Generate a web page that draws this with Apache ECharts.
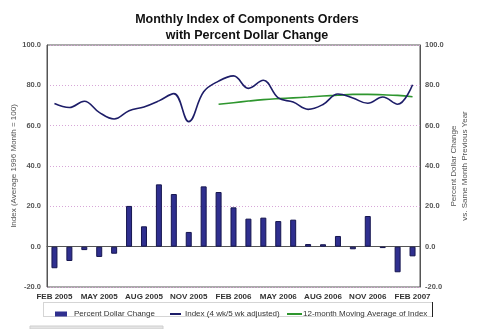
<!DOCTYPE html>
<html>
<head>
<meta charset="utf-8">
<script src="https://cdn.jsdelivr.net/npm/echarts@6/dist/echarts.min.js"></script>
<style>
  html, body { margin: 0; padding: 0; background: #fff; }
  #chart { width: 482px; height: 329px; }
</style>
</head>
<body>
<div id="chart"></div>
<script>
// Months, February 2005 through February 2007
var months = ['FEB 2005','MAR 2005','APR 2005','MAY 2005','JUN 2005','JUL 2005','AUG 2005','SEP 2005','OCT 2005','NOV 2005','DEC 2005',
              'JAN 2006','FEB 2006','MAR 2006','APR 2006','MAY 2006','JUN 2006','JUL 2006','AUG 2006','SEP 2006','OCT 2006','NOV 2006','DEC 2006',
              'JAN 2007','FEB 2007'];

// Percent dollar change vs. same month previous year
var pctChange = [-10.7, -7.1, -1.7, -5.1, -3.5, 20.2, 10.1, 30.9, 26.1, 7.3, 29.9,
                 27.1, 19.5, 13.9, 14.4, 12.7, 13.4, 1.3, 1.2, 5.3, -1.3, 15.2, -0.7,
                 -12.7, -4.8];

// Index (4 wk/5 wk adjusted), average 1996 month = 100
var indexValues = [71.0, 69.0, 72.1, 66.6, 63.3, 67.4, 69.3, 72.3, 75.9, 62.0, 76.8,
                   82.1, 84.7, 78.5, 82.5, 73.8, 71.7, 68.1, 70.5, 75.7, 73.7, 71.1, 74.2,
                   70.6, 80.3];

// 12-month moving average of the index (starts January 2006)
var movingAvg = [null, null, null, null, null, null, null, null, null, null, null,
                 70.6, 71.4, 72.2, 72.9, 73.4, 73.8, 74.2, 74.7, 75.1, 75.5, 75.5, 75.3,
                 75.0, 74.3];

var yMin = -20, yMax = 100, yStep = 20;

var FONT = 'Liberation Sans, Arial, sans-serif';
var NAME_BAR = 'Percent Dollar Change';
var NAME_IDX = 'Index (4 wk/5 wk adjusted)';
var NAME_MA = '12-month Moving Average of Index';

var BAR_COLOR = '#2f2f8f';
var IDX_COLOR = '#1d1d68';
var MA_COLOR = '#2e962e';

var chart = echarts.init(document.getElementById('chart'), null, { renderer: 'canvas' });

function fmt(v) { return v.toFixed(1); }

var valueAxisBase = {
  type: 'value',
  min: yMin, max: yMax, interval: yStep,
  axisTick: { show: false },
  axisLine: { show: true, lineStyle: { color: '#555', width: 1 } },
  axisLabel: { formatter: fmt, fontFamily: FONT, fontSize: 7.5, fontWeight: 'bold', color: '#555' },
  nameLocation: 'middle',
  nameRotate: 90,
  nameMoveOverlap: false,
  nameTextStyle: { fontFamily: FONT, fontSize: 8, color: '#555', lineHeight: 11 }
};

var legendText = { fontFamily: FONT, fontSize: 8, color: '#333' };

chart.setOption({
  animation: false,
  backgroundColor: '#fff',
  textStyle: { fontFamily: FONT },
  title: {
    text: 'Monthly Index of Components Orders\nwith Percent Dollar Change',
    left: 242,
    top: 7,
    textAlign: 'center',
    textStyle: { fontFamily: FONT, fontSize: 12.5, fontWeight: 'bold', color: '#111', lineHeight: 16 }
  },
  grid: {
    left: 47, right: 62, top: 45, bottom: 42,
    outerBoundsMode: 'none',
    containLabel: false,
    show: true, borderColor: '#555', borderWidth: 1
  },
  legend: [
    { data: [{ name: NAME_BAR, icon: 'rect', itemStyle: { color: BAR_COLOR, borderWidth: 0 } }],
      left: 50, top: 305, itemWidth: 12, itemHeight: 5, itemGap: 0,
      textStyle: Object.assign({}, legendText, { padding: [0, 0, 0, 2] }) },
    { data: [{ name: NAME_IDX, icon: 'rect', itemStyle: { color: IDX_COLOR } }],
      left: 165, top: 305, itemWidth: 11, itemHeight: 2, itemGap: 0,
      textStyle: Object.assign({}, legendText, { padding: [0, 0, 0, -1] }) },
    { data: [{ name: NAME_MA, icon: 'rect', itemStyle: { color: MA_COLOR } }],
      left: 282, top: 305, itemWidth: 15, itemHeight: 2, itemGap: 0,
      textStyle: Object.assign({}, legendText, { padding: [0, 0, 0, -4] }) }
  ],
  graphic: [
    { type: 'rect', shape: { x: 43.5, y: 302.5, width: 389, height: 14 },
      style: { fill: 'none', stroke: '#aaa', lineWidth: 1, lineDash: [1, 1] }, z: -1 },
    { type: 'line', shape: { x1: 432.5, y1: 302, x2: 432.5, y2: 317 },
      style: { stroke: '#222', lineWidth: 1 } },
    { type: 'rect', shape: { x: 30, y: 326, width: 133, height: 3 },
      style: { fill: '#e4e4e4', stroke: '#cfcfcf', lineWidth: 1 } }
  ],
  xAxis: {
    type: 'category',
    data: months,
    boundaryGap: true,
    axisTick: { show: false },
    axisLine: { lineStyle: { color: '#555', width: 1 } },
    axisLabel: { interval: 2, margin: 6, fontFamily: FONT, fontSize: 8, fontWeight: 'bold', color: '#333' },
    splitLine: { show: false }
  },
  yAxis: [
    Object.assign({}, valueAxisBase, {
      position: 'left',
      name: 'Index (Average 1996 Month = 100)',
      nameGap: 28,
      axisLabel: Object.assign({}, valueAxisBase.axisLabel, { margin: 6 }),
      splitLine: { show: true, lineStyle: { color: '#d7a6d7', type: [1, 2], width: 1 } }
    }),
    Object.assign({}, valueAxisBase, {
      position: 'right',
      name: 'Percent Dollar Change\nvs. Same Month Previous Year',
      nameGap: 28,
      axisLabel: Object.assign({}, valueAxisBase.axisLabel, { margin: 5 }),
      splitLine: { show: false }
    })
  ],
  series: [
    {
      name: NAME_BAR,
      type: 'bar',
      yAxisIndex: 1,
      data: pctChange,
      barWidth: 6,
      itemStyle: { color: BAR_COLOR, borderColor: '#16164f', borderWidth: 1 },
      z: 2
    },
    {
      name: NAME_IDX,
      type: 'line',
      yAxisIndex: 0,
      data: indexValues,
      smooth: 0.4,
      symbol: 'none',
      lineStyle: { color: IDX_COLOR, width: 1.6 },
      itemStyle: { color: IDX_COLOR },
      z: 4
    },
    {
      name: NAME_MA,
      type: 'line',
      yAxisIndex: 0,
      data: movingAvg,
      smooth: 0.4,
      symbol: 'none',
      connectNulls: false,
      lineStyle: { color: MA_COLOR, width: 1.6 },
      itemStyle: { color: MA_COLOR },
      z: 3
    }
  ]
});
</script>
</body>
</html>
